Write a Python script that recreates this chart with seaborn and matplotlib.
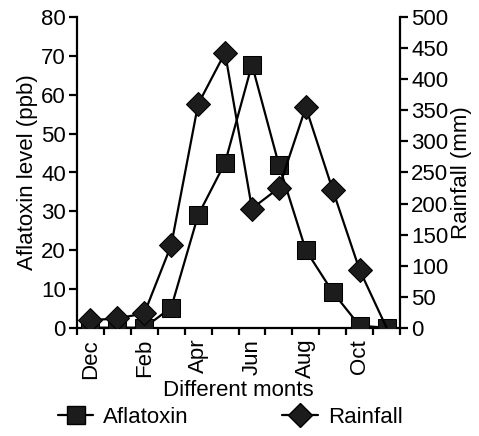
import numpy as np
import pandas as pd
import matplotlib
matplotlib.use("Agg")
import matplotlib.pyplot as plt
import seaborn as sns
from matplotlib.ticker import FixedLocator
from matplotlib.lines import Line2D

months = ["Dec", "Jan", "Feb", "Mar", "Apr", "May", "Jun", "Jul", "Aug", "Sep", "Oct", "Nov"]
aflatoxin = [0, 0, 0, 5.2, 29, 42.5, 67.8, 42, 20, 9.2, 0.5, 0]
rainfall = [12, 15, 23, 133, 360, 443, 192, 225, 355, 222, 93, 0]
left_ticks = [0, 10, 20, 30, 40, 50, 60, 70, 80]
right_ticks = [0, 50, 100, 150, 200, 250, 300, 350, 400, 450, 500]

sns.set_style("ticks")
plt.rcParams["font.family"] = ["Liberation Sans", "DejaVu Sans"]
plt.rcParams.update({"font.size": 16, "text.color": "black", "axes.labelcolor": "black",
                     "xtick.color": "black", "ytick.color": "black",
                     "axes.edgecolor": "black"})
FS = 16

df = pd.DataFrame({"month": months, "Aflatoxin": aflatoxin, "Rainfall": rainfall})

fig = plt.figure(figsize=(4.79, 4.36), dpi=100)
ax = fig.add_axes([77/479, 1-327.7/436, (400-77)/479, (327.7-17.3)/436])
ax2 = ax.twinx()

col = "#1c1c1c"
sns.lineplot(data=df, x="month", y="Aflatoxin", sort=False, ax=ax, color="black",
             marker="s", markersize=12.5, markerfacecolor=col, markeredgecolor="black",
             linewidth=1.6, zorder=3)
sns.lineplot(data=df, x="month", y="Rainfall", sort=False, ax=ax2, color="black",
             marker="D", markersize=12.5, markerfacecolor=col, markeredgecolor="black",
             linewidth=1.6, markevery=list(range(len(months) - 1)), zorder=2)

ax.set_xlim(-0.5, len(months) - 0.5)
ax.set_ylim(0, 80)
ax2.set_ylim(0, 500)
ax.set_yticks(left_ticks)
ax2.set_yticks(right_ticks)
ax.set_xticks(range(0, len(months), 2))
ax.set_xticklabels(months[::2], rotation=90)
ax.xaxis.set_minor_locator(FixedLocator(np.arange(-0.5, len(months), 1.0)))
ax.tick_params(axis="x", which="major", length=0, pad=8, labelsize=FS)
ax.tick_params(axis="x", which="minor", length=5, width=1.6, direction="out")
ax.tick_params(axis="y", length=6, width=1.6, direction="out", labelsize=FS, pad=2)
ax2.tick_params(axis="y", length=6, width=1.6, direction="out", labelsize=FS, pad=2)

for a in (ax, ax2):
    for s in a.spines.values():
        s.set_linewidth(1.6)
    a.spines["top"].set_visible(False)
ax.spines["right"].set_visible(False)
ax2.spines["left"].set_visible(False)
ax2.spines["bottom"].set_visible(False)

ax.set_xlabel("Different monts", fontsize=FS, labelpad=1)
ax.set_ylabel("Aflatoxin level (ppb)", fontsize=FS, labelpad=2)
ax2.set_ylabel("Rainfall (mm)", fontsize=FS, labelpad=2)

h1 = Line2D([], [], color="black", marker="s", markersize=12.5, markerfacecolor=col,
            markeredgecolor="black", linewidth=1.6)
h2 = Line2D([], [], color="black", marker="D", markersize=12.5, markerfacecolor=col,
            markeredgecolor="black", linewidth=1.6)
fig.legend([h1, h2], ["Aflatoxin", "Rainfall"], loc="lower left", ncol=2,
           bbox_to_anchor=(0.079, -0.027), frameon=False, fontsize=FS,
           handlelength=1.6, handletextpad=0.45, columnspacing=4.2)

fig.savefig("out.png", dpi=100)
